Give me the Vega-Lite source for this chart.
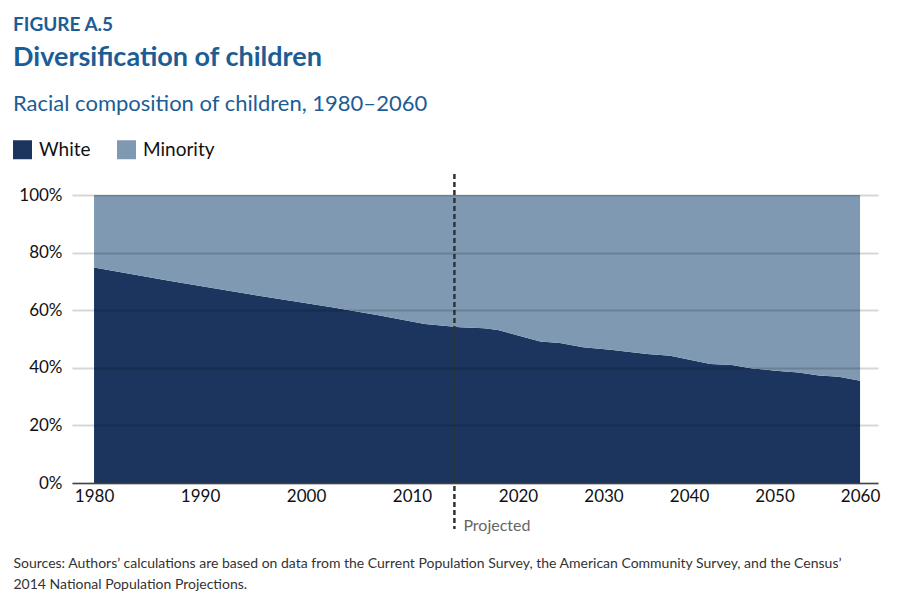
{
  "$schema": "https://vega.github.io/schema/vega-lite/v6.json",
  "width": 806,
  "height": 288,
  "padding": {"left": 13, "top": 16, "right": 5, "bottom": 5},
  "background": "white",
  "config": {"font": "Lato", "view": {"stroke": null}},
  "title": {
    "text": "FIGURE A.5",
    "subtitle": "Diversification of children",
    "anchor": "start",
    "frame": "bounds",
    "font": "Lato",
    "subtitleFont": "Lato",
    "fontSize": 19,
    "fontWeight": "bold",
    "color": "#1c5d96",
    "subtitleFontSize": 27,
    "subtitleFontWeight": "bold",
    "subtitleColor": "#1c5d96",
    "subtitlePadding": 10,
    "offset": 23
  },
  "datasets": {
    "shares": [
      {"year": 1980, "White": 74.8, "Minority": 25.2},
      {"year": 1987.2, "White": 70.1, "Minority": 29.9},
      {"year": 1994.7, "White": 65.5, "Minority": 34.5},
      {"year": 2002.3, "White": 61.1, "Minority": 38.9},
      {"year": 2006.7, "White": 58.3, "Minority": 41.7},
      {"year": 2011.2, "White": 55.2, "Minority": 44.8},
      {"year": 2014.5, "White": 54.1, "Minority": 45.9},
      {"year": 2016.8, "White": 53.7, "Minority": 46.3},
      {"year": 2018.1, "White": 53.1, "Minority": 46.9},
      {"year": 2022.6, "White": 49.1, "Minority": 50.9},
      {"year": 2024.9, "White": 48.6, "Minority": 51.4},
      {"year": 2027.6, "White": 47.1, "Minority": 52.9},
      {"year": 2030.8, "White": 46.3, "Minority": 53.7},
      {"year": 2035.1, "White": 44.8, "Minority": 55.2},
      {"year": 2037.8, "White": 44.2, "Minority": 55.8},
      {"year": 2042.5, "White": 41.3, "Minority": 58.7},
      {"year": 2045.0, "White": 41.0, "Minority": 59.0},
      {"year": 2047.4, "White": 39.8, "Minority": 60.2},
      {"year": 2050.1, "White": 39.0, "Minority": 61.0},
      {"year": 2052.8, "White": 38.4, "Minority": 61.6},
      {"year": 2055.2, "White": 37.3, "Minority": 62.7},
      {"year": 2057.5, "White": 36.9, "Minority": 63.1},
      {"year": 2060, "White": 35.5, "Minority": 64.5}
    ],
    "marker": [{"year": 2014, "label": "Projected"}]
  },
  "layer": [
    {
      "data": {"name": "shares"},
      "transform": [{"fold": ["White", "Minority"], "as": ["group", "share"]}],
      "mark": {"type": "area", "interpolate": "linear"},
      "encoding": {
        "x": {
          "field": "year",
          "type": "quantitative",
          "scale": {"domain": [1977.92, 2020, 2062.1], "range": [0, 446, 806], "nice": false, "zero": false},
          "axis": {
            "values": [1980, 1990, 2000, 2010, 2020, 2030, 2040, 2050, 2060],
            "format": "d",
            "ticks": false,
            "domain": true,
            "domainColor": "#444",
            "domainWidth": 1.5,
            "grid": false,
            "labelFlush": false,
            "labelFontSize": 17,
            "labelPadding": 5,
            "labelColor": "#111",
            "title": ["Sources: Authors’ calculations are based on data from the Current Population Survey, the American Community Survey, and the Census’", "2014 National Population Projections."],
            "titleX": -59,
            "titleY": 84,
            "titleAlign": "left",
            "titleBaseline": "alphabetic",
            "titleFontSize": 14,
            "titleFontWeight": "normal",
            "titleColor": "#333",
            "titleLineHeight": 21,
            "zindex": 1
          }
        },
        "y": {
          "field": "share",
          "type": "quantitative",
          "stack": "zero",
          "scale": {"domain": [0, 100], "nice": false},
          "axis": {
            "values": [0, 20, 40, 60, 80, 100],
            "labelExpr": "datum.value + '%'",
            "domain": false,
            "ticks": false,
            "grid": true,
            "gridColor": "#000",
            "gridOpacity": 0.16,
            "gridWidth": 2,
            "labelFontSize": 17,
            "labelColor": "#111",
            "labelPadding": 10,
            "title": null,
            "zindex": 1
          }
        },
        "color": {
          "field": "group",
          "type": "nominal",
          "scale": {"domain": ["White", "Minority"], "range": ["#1c355e", "#7f99b2"]},
          "legend": {
            "orient": "none",
            "legendX": -59,
            "legendY": -101,
            "direction": "horizontal",
            "title": "Racial composition of children, 1980–2060",
            "titleFontSize": 22,
            "titleFontWeight": "normal",
            "titleColor": "#1c5d96",
            "titlePadding": 24,
            "titleLimit": 700,
            "symbolType": "square",
            "symbolSize": 361,
            "symbolStrokeWidth": 0,
            "symbolOpacity": 1,
            "labelFontSize": 19,
            "labelColor": "#111",
            "labelOffset": 7,
            "columnPadding": 26,
            "labelLimit": 200
          }
        },
        "order": {"field": "group", "sort": "descending"}
      }
    },
    {
      "data": {"name": "marker"},
      "mark": {"type": "rule", "strokeDash": [5, 3], "strokeWidth": 2.5, "color": "#333"},
      "encoding": {
        "x": {"field": "year", "type": "quantitative"},
        "y": {"datum": 107.3, "type": "quantitative"},
        "y2": {"datum": -16}
      }
    },
    {
      "data": {"name": "marker"},
      "mark": {"type": "text", "align": "left", "baseline": "middle", "dx": 9, "fontSize": 16, "color": "#666", "font": "Lato"},
      "encoding": {
        "x": {"field": "year", "type": "quantitative"},
        "y": {"datum": -14.9, "type": "quantitative"},
        "text": {"field": "label"}
      }
    }
  ]
}
